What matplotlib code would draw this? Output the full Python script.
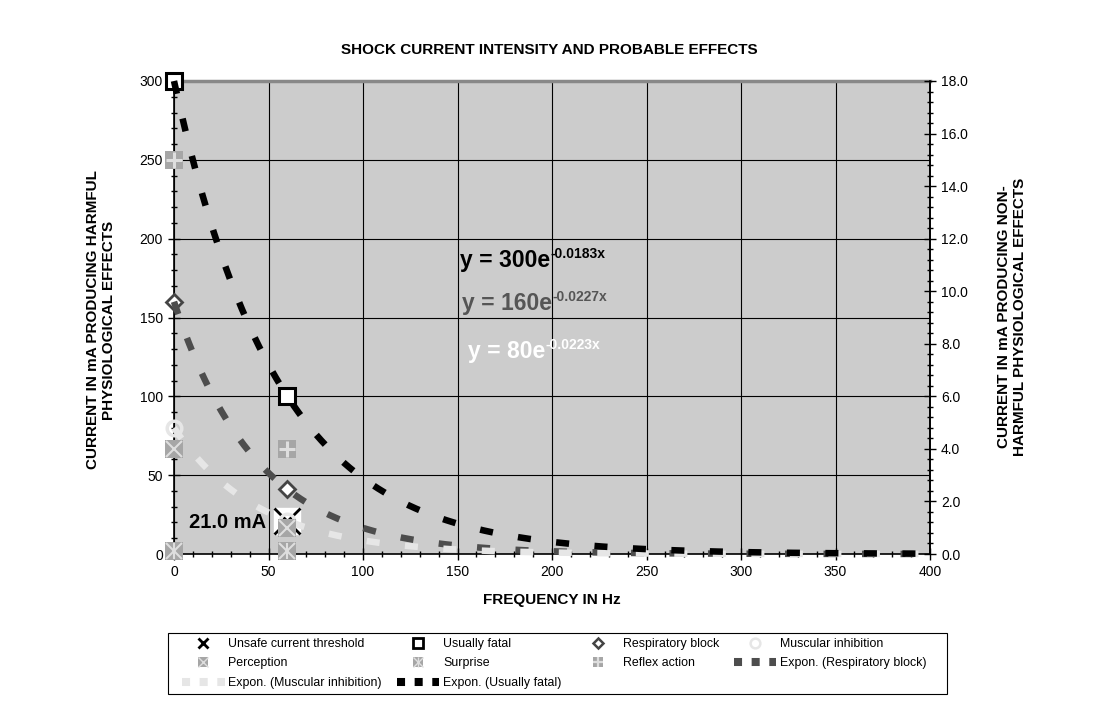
import numpy as np
import matplotlib.pyplot as plt
from matplotlib.lines import Line2D
from matplotlib.patches import Rectangle
from matplotlib.ticker import MultipleLocator, FormatStrFormatter

plt.rcParams['font.family'] = ['Liberation Sans', 'DejaVu Sans']

# measured points (frequency in Hz, current in mA)
freq = [0, 60]
usually_fatal = [300, 100]
respiratory_block = [160, 41]
muscular_inhibition = [80, 21]
unsafe_freq = [60]
unsafe_threshold = [21.0]
# plotted against the right-hand (non-harmful) axis
perception = [4.0, 1.0]
surprise = [0.1, 0.1]
reflex_action = [15.0, 4.0]

FATAL_C = 'black'
RESP_C = '#4d4d4d'
MUSC_C = '#e6e6e6'
BOX_C = '#a6a6a6'
BOX_LINE = '#dedede'

W, H = 1099, 719
fig = plt.figure(figsize=(W / 100, H / 100), dpi=100)
ax = fig.add_axes([174 / W, 1 - 554 / H, 756 / W, 473 / H])
ax.set_facecolor('#cccccc')
ax2 = ax.twinx()


def exp_fit(x, y):
    b, ln_a = np.polyfit(x, np.log(y), 1)
    return np.exp(ln_a), b


# unsafe threshold: white box with a black cross
ax.plot(unsafe_freq, unsafe_threshold, ls='none', marker='s', ms=19,
        mfc='white', mec='white', zorder=3, clip_on=False)
ax.plot(unsafe_freq, unsafe_threshold, ls='none', marker='x', ms=19,
        mew=2, color='black', zorder=3, clip_on=False)
ax.annotate(f"{unsafe_threshold[0]:.1f} mA", xy=(unsafe_freq[0], unsafe_threshold[0]),
            xytext=(-15, -1), textcoords='offset points', ha='right', va='center',
            fontsize=14.5, weight='bold', zorder=6)

ax.plot(freq, usually_fatal, ls='none', marker='s', ms=11.5, mfc='white',
        mec='black', mew=2.2, zorder=3, clip_on=False)
ax.plot(freq, respiratory_block, ls='none', marker='D', ms=8, mfc='white',
        mec='#444444', mew=2, zorder=3, clip_on=False)
ax.plot(freq, muscular_inhibition, ls='none', marker='o', ms=10.5, mfc='none',
        mec=MUSC_C, mew=2.5, zorder=3, clip_on=False)

# exponential trendlines
xs = np.linspace(0, 400, 401)
trends = [(respiratory_block, RESP_C), (muscular_inhibition, MUSC_C), (usually_fatal, FATAL_C)]
fits = {}
for i, (series, c) in enumerate(trends):
    a, b = exp_fit(freq, series)
    fits[c] = (a, b)
    ax.plot(xs, a * np.exp(b * xs), color=c, lw=4.7, dashes=(2.0, 3.9),
            dash_capstyle='butt', zorder=4 + i * 0.1, clip_on=False)

# non-harmful effects on the secondary axis
for series, extra in [(perception, ['x']), (surprise, ['x', '|']), (reflex_action, ['+'])]:
    ax2.plot(freq, series, ls='none', marker='s', ms=13, mfc=BOX_C, mec=BOX_C,
             mew=0, zorder=3, clip_on=False)
    for m in extra:
        mw = 2.2 if m == '+' else 1.5
        ax2.plot(freq, series, ls='none', marker=m, ms=12, mec=BOX_LINE, mew=mw,
                 zorder=3.5, clip_on=False)

ax.set_xlim(0, 400)
ax.set_ylim(0, 300)
ax2.set_ylim(0, 18)
ax.xaxis.set_major_locator(MultipleLocator(50))
ax.xaxis.set_minor_locator(MultipleLocator(10))
ax.yaxis.set_major_locator(MultipleLocator(50))
ax.yaxis.set_minor_locator(MultipleLocator(10))
ax2.yaxis.set_major_locator(MultipleLocator(2))
ax2.yaxis.set_minor_locator(MultipleLocator(0.4))
ax2.yaxis.set_major_formatter(FormatStrFormatter('%.1f'))

for a_ in (ax, ax2):
    a_.tick_params(which='major', direction='inout', length=8, width=1, labelsize=10, pad=4)
    a_.tick_params(which='minor', direction='inout', length=5, width=1)
ax.tick_params(which='both', right=False, top=False)

ax.grid(True, which='major', color='black', lw=0.8)
ax.set_axisbelow(True)

for s in ('left', 'bottom', 'right'):
    ax.spines[s].set_color('black')
    ax.spines[s].set_linewidth(1.2)
ax.spines['top'].set_color('#888888')
ax.spines['top'].set_linewidth(2.5)
for s in ('left', 'bottom', 'top'):
    ax2.spines[s].set_visible(False)
ax2.spines['right'].set_linewidth(1.2)

# titles and axis labels
fig.text(549 / W, 1 - 50 / H, 'SHOCK CURRENT INTENSITY AND PROBABLE EFFECTS',
         ha='center', va='center', fontsize=11, weight='bold')
fig.text(552 / W, 1 - 600 / H, 'FREQUENCY IN Hz', ha='center', va='center',
         fontsize=11, weight='bold')
fig.text(101 / W, 1 - 320 / H, 'CURRENT IN mA PRODUCING HARMFUL\nPHYSIOLOGICAL EFFECTS',
         ha='center', va='center', rotation=90, multialignment='center',
         fontsize=11, weight='bold', linespacing=1.2)
fig.text(1012 / W, 1 - 317 / H, 'CURRENT IN mA PRODUCING NON-\nHARMFUL PHYSIOLOGICAL EFFECTS',
         ha='center', va='center', rotation=90, multialignment='center',
         fontsize=11, weight='bold', linespacing=1.2)

# trendline equations
eq_pos = [(FATAL_C, 'black', 151.3, 182), (RESP_C, '#555555', 152.4, 154.8),
          (MUSC_C, 'white', 155.6, 124.4)]
eq_texts = []
for key, c, x, y in eq_pos:
    a, b = fits[key]
    t = ax.text(x, y, f"y = {a:.0f}e", color=c, fontsize=16.5, weight='bold',
                ha='left', va='baseline', zorder=6)
    eq_texts.append((t, f"{b:.4f}x", c, x, y))

# legend
leg_items = [
    (Line2D([], [], ls='none', marker='x', ms=7, mew=2, color='black'), 'Unsafe current threshold'),
    ((Line2D([], [], ls='none', marker='s', ms=7.5, mfc=BOX_C, mec=BOX_C, mew=0),
      Line2D([], [], ls='none', marker='x', ms=7, mec=BOX_LINE, mew=1)), 'Perception'),
    (Line2D([], [], color=MUSC_C, lw=5.8, dashes=(1, 1.19), dash_capstyle='butt'),
     'Expon. (Muscular inhibition)'),
    (Line2D([], [], ls='none', marker='s', ms=6.5, mfc='white', mec='black', mew=2), 'Usually fatal'),
    ((Line2D([], [], ls='none', marker='s', ms=7.5, mfc=BOX_C, mec=BOX_C, mew=0),
      Line2D([], [], ls='none', marker='x', ms=7, mec=BOX_LINE, mew=1),
      Line2D([], [], ls='none', marker='|', ms=7, mec=BOX_LINE, mew=1)), 'Surprise'),
    (Line2D([], [], color=FATAL_C, lw=5.8, dashes=(1, 1.19), dash_capstyle='butt'),
     'Expon. (Usually fatal)'),
    (Line2D([], [], ls='none', marker='D', ms=5, mfc='white', mec='#444444', mew=1.8),
     'Respiratory block'),
    ((Line2D([], [], ls='none', marker='s', ms=7.5, mfc=BOX_C, mec=BOX_C, mew=0),
      Line2D([], [], ls='none', marker='+', ms=7, mec=BOX_LINE, mew=1.6)), 'Reflex action'),
    (Line2D([], [], ls='none', marker='o', ms=7, mfc='none', mec=MUSC_C, mew=1.8),
     'Muscular inhibition'),
    (Line2D([], [], color=RESP_C, lw=5.8, dashes=(1, 1.19), dash_capstyle='butt'),
     'Expon. (Respiratory block)'),
]
leg = fig.legend([h for h, _ in leg_items], [l for _, l in leg_items], loc='upper left',
                 bbox_to_anchor=(182 / W, 1 - 638 / H), ncol=4, fontsize=8.9,
                 frameon=False, handlelength=3.45, handletextpad=0.3, columnspacing=1.2,
                 labelspacing=0.6, borderpad=0, borderaxespad=0)
fig.patches.append(Rectangle((168 / W, 1 - 694 / H), 779 / W, 61 / H,
                             transform=fig.transFigure, fill=False, ec='black', lw=0.8))

# superscripts placed right after each equation
fig.canvas.draw()
renderer = fig.canvas.get_renderer()
for t, sup, c, x, y in eq_texts:
    bb = t.get_window_extent(renderer)
    yb = ax.transData.transform((x, y))[1]
    fig.text(bb.x1 / W, (yb + 9) / H, sup, color=c, fontsize=10, weight='bold',
             ha='left', va='baseline', zorder=6)

fig.savefig('out.png', dpi=100)
